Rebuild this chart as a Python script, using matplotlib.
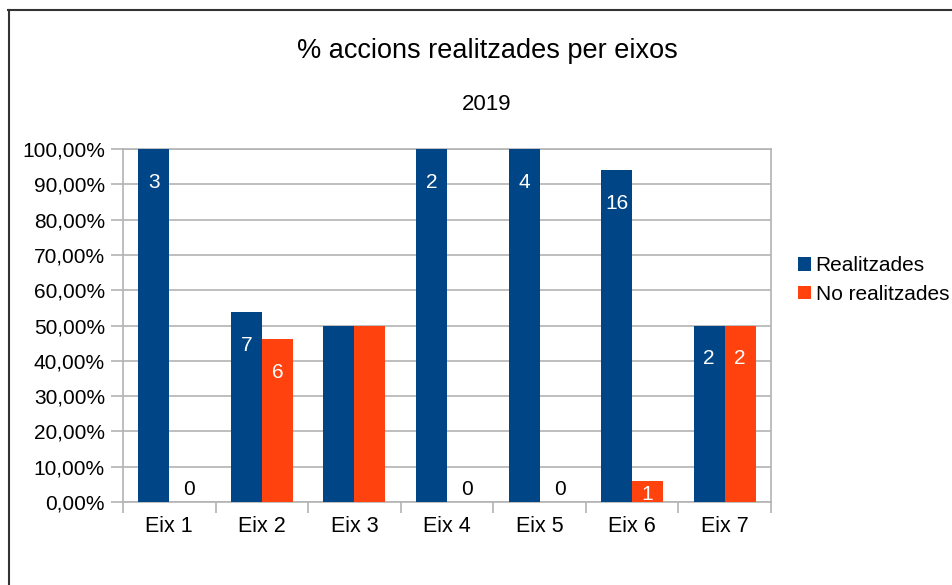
import matplotlib
matplotlib.use("Agg")
from matplotlib import pyplot as plt
from matplotlib.lines import Line2D
import numpy as np

plt.rcParams['font.family'] = ['Liberation Sans', 'DejaVu Sans']

# data
eixos = ["Eix 1", "Eix 2", "Eix 3", "Eix 4", "Eix 5", "Eix 6", "Eix 7"]
realitzades = [3, 7, 1, 2, 4, 16, 2]
no_realitzades = [0, 6, 1, 0, 0, 1, 2]
pct_real = [100.0, 53.85, 50.0, 100.0, 100.0, 94.12, 50.0]
pct_no = [0.0, 46.15, 50.0, 0.0, 0.0, 5.88, 50.0]
show_labels = [True, True, False, True, True, True, True]

blue = "#004586"
orange = "#ff420e"
grid_col = "#b3b3b3"

fig = plt.figure(figsize=(9.52, 5.85), dpi=100)
ax = fig.add_axes([123/952, 83/585, 648/952, 353/585])

x = np.arange(len(eixos))
w = 0.335
b1 = ax.bar(x - w/2, pct_real, w, color=blue, zorder=3, label="Realitzades")
b2 = ax.bar(x + w/2, pct_no, w, color=orange, zorder=3, label="No realitzades")

# value labels (counts) inside the bars
def put_labels(bars, counts, pcts):
    for rect, n, p, show in zip(bars, counts, pcts, show_labels):
        if not show:
            continue
        cx = rect.get_x() + rect.get_width()/2
        if p == 0:
            ax.annotate(str(n), (cx + 0.05, 0), xytext=(0, 2), textcoords="offset points",
                        ha="center", va="bottom", color="black", fontsize=15, zorder=4)
        elif p < 10:
            ax.annotate(str(n), (cx, p/2), xytext=(0, -2), textcoords="offset points",
                        ha="center", va="center", color="white", fontsize=15, zorder=4)
        else:
            ax.annotate(str(n), (cx, p), xytext=(0, -24), textcoords="offset points",
                        ha="center", va="center", color="white", fontsize=15, zorder=4)

put_labels(b1, realitzades, pct_real)
put_labels(b2, no_realitzades, pct_no)

ax.set_xlim(-0.5, len(eixos) - 0.5)
ax.set_ylim(0, 100)
ax.set_yticks(np.arange(0, 101, 10))
ax.set_yticklabels(["%d,00%%" % v for v in range(0, 101, 10)], fontsize=15)
ax.set_xticks(np.arange(-0.5, len(eixos)), labels=[])
ax.set_xticks(x, minor=True)
ax.set_xticklabels(eixos, minor=True, fontsize=15.5)
ax.tick_params(axis="x", which="minor", length=0, pad=10)
ax.tick_params(axis="x", which="major", length=8, color=grid_col, width=1.2)
ax.tick_params(axis="y", length=9, color=grid_col, width=1.2, pad=4)
ax.grid(axis="y", which="major", color=grid_col, linewidth=1.2, zorder=0)
for s in ax.spines.values():
    s.set_color(grid_col)
    s.set_linewidth(1.2)

fig.text(487/952, 1 - 51/585, "% accions realitzades per eixos", ha="center", va="center", fontsize=19.5)
fig.text(487/952, 1 - 105/585, "2019", ha="center", va="center", fontsize=16)

fig.legend(handles=[b1, b2], loc="center left", bbox_to_anchor=(788/952, 1 - 280/585),
           frameon=False, fontsize=15, handlelength=0.62, handleheight=0.62,
           handletextpad=0.2, labelspacing=0.45, borderpad=0)

# border of the original chart frame
fig.add_artist(Line2D([8.5/952, 8.5/952], [0, 1 - 10/585], transform=fig.transFigure,
                      color="#333333", linewidth=1.5))
fig.add_artist(Line2D([8/952, 1], [1 - 10/585, 1 - 10/585], transform=fig.transFigure,
                      color="#333333", linewidth=1.5))

fig.savefig("out.png", dpi=100)
